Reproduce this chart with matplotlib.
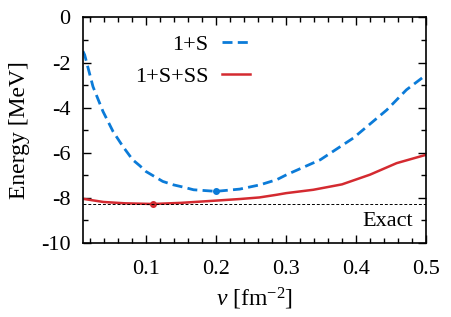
import matplotlib
matplotlib.use("Agg")
import matplotlib.pyplot as plt
from matplotlib.ticker import MultipleLocator, FixedLocator

plt.rcParams['font.family'] = ['Liberation Serif', 'DejaVu Serif']
plt.rcParams['mathtext.fontset'] = 'custom'
plt.rcParams['mathtext.rm'] = 'Liberation Serif'
plt.rcParams['mathtext.it'] = 'Liberation Serif:italic'
plt.rcParams['axes.unicode_minus'] = False

# 1+S (dashed blue)
nu_s = [0.01, 0.0124, 0.0243, 0.0386, 0.053, 0.067, 0.081, 0.091, 0.1, 0.124, 0.139, 0.153, 0.168,
        0.2, 0.234, 0.263, 0.287, 0.301, 0.349, 0.396, 0.444, 0.472, 0.5]
e_s = [-1.5, -1.66, -3.07, -4.17, -5.06, -5.72, -6.31, -6.57, -6.83, -7.27, -7.42, -7.52, -7.64,
       -7.71, -7.61, -7.42, -7.19, -6.97, -6.31, -5.35, -4.1, -3.21, -2.55]
# 1+S+SS (solid red)
nu_ss = [0.01, 0.039, 0.07, 0.11, 0.15, 0.2, 0.234, 0.262, 0.287, 0.3, 0.339, 0.38, 0.42, 0.458, 0.5]
e_ss = [-8.04, -8.18, -8.24, -8.27, -8.22, -8.12, -8.05, -7.98, -7.86, -7.79, -7.64, -7.4, -6.97, -6.46, -6.09]
# minima markers
min_s = (0.2, -7.71)
min_ss = (0.11, -8.27)
exact = -8.27

blue = '#0b7bd8'
red = '#d42a30'

fig = plt.figure(figsize=(4.52, 3.17), dpi=100)
ax = fig.add_axes([0.1836, 0.2334, 0.7589, 0.7116])

ax.plot(nu_s, e_s, color=blue, lw=2.0, ls=(0, (3.6, 1.9)), label='1+S')
ax.plot(nu_ss, e_ss, color=red, lw=1.8, label='1+S+SS')
ax.plot([min_s[0]], [min_s[1]], 'o', color=blue, ms=4)
ax.plot([min_ss[0]], [min_ss[1]], 'o', color=red, ms=4)
ax.axhline(exact, color='black', lw=0.7, ls=(0, (3, 2)))
ax.text(0.481, -9.05, 'Exact', ha='right', va='center', fontsize=16)

ax.set_xlim(0.01, 0.5)
ax.set_ylim(-10, 0)
ax.xaxis.set_major_locator(FixedLocator([0.1, 0.2, 0.3, 0.4, 0.5]))
ax.xaxis.set_minor_locator(FixedLocator([0.02 * i for i in range(1, 26)]))
ax.set_xticklabels(['0.1', '0.2', '0.3', '0.4', '0.5'])
ax.yaxis.set_major_locator(MultipleLocator(2))
ax.yaxis.set_minor_locator(MultipleLocator(1))
ax.tick_params(which='both', direction='in', top=True, right=True, labelsize=16, width=1.0)
ax.tick_params(which='major', length=6, pad=9)
ax.tick_params(axis='x', which='major', pad=12)
ax.tick_params(which='minor', length=3.5)
for s in ax.spines.values():
    s.set_linewidth(1.2)

ax.set_ylabel('Energy [MeV]', fontsize=17, labelpad=8)
ax.set_xlabel(r'$\it{\nu}$ [fm$^{\mathregular{-2}}$]', fontsize=17, labelpad=5)

leg = ax.legend(loc='upper right', bbox_to_anchor=(0.486, 0.925), frameon=False, fontsize=16,
                markerfirst=False, handlelength=1.25, handletextpad=0.6, labelspacing=0.5,
                borderpad=0, borderaxespad=0)
for t in leg.get_texts():
    t.set_ha('right')

fig.savefig('out.png', dpi=100)
